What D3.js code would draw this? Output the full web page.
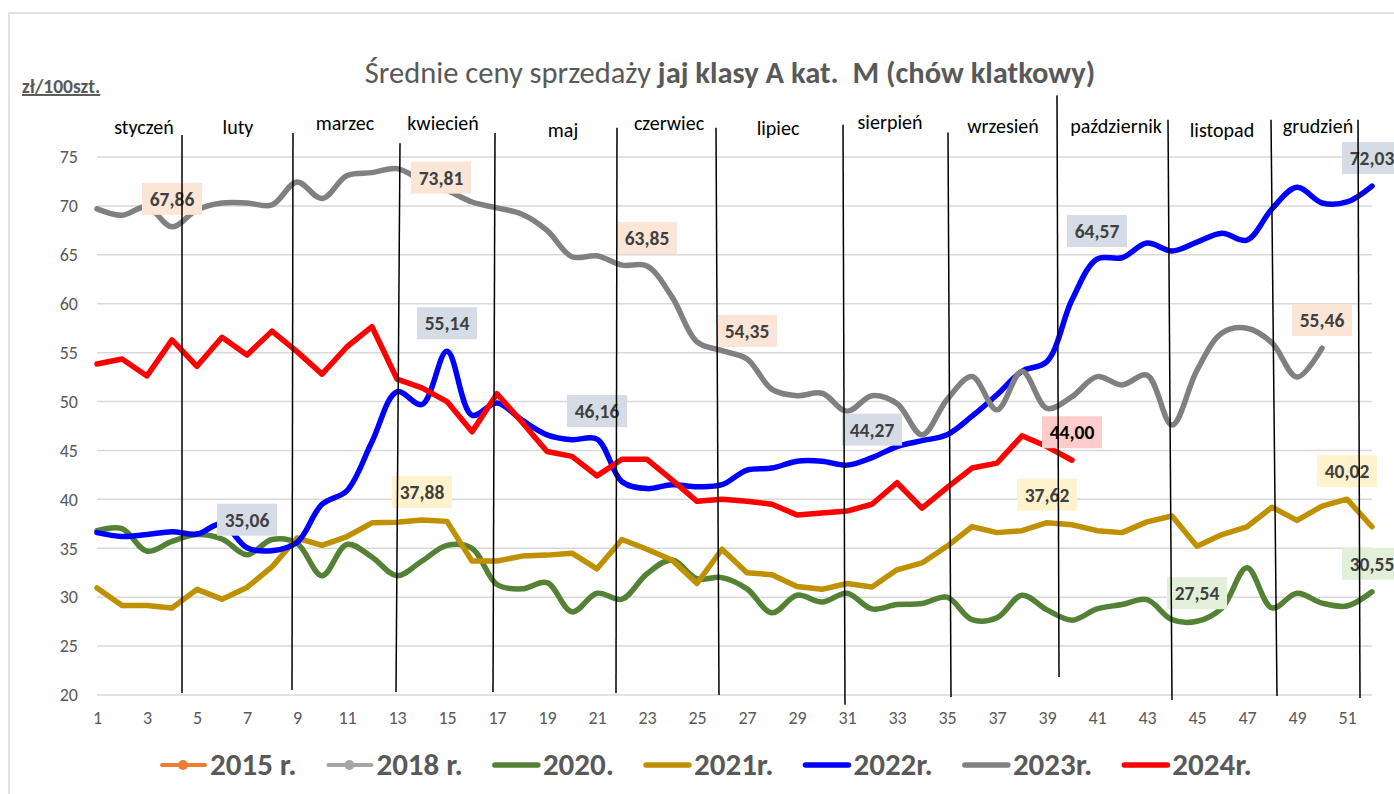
<!DOCTYPE html>
<html>
<head>
<meta charset="utf-8">
<script src="https://cdn.jsdelivr.net/npm/d3@7"></script>
<style>
  body { margin: 0; background: #fff; }
  svg { display: block; font-family: Carlito, Lato, "Open Sans", sans-serif; }
</style>
</head>
<body>
<div id="chart"></div>
<script>
// weeks of the year (category axis)
const weeks = [1, 2, 3, 4, 5, 6, 7, 8, 9, 10, 11, 12, 13, 14, 15, 16, 17, 18, 19, 20, 21, 22, 23, 24, 25, 26,
  27, 28, 29, 30, 31, 32, 33, 34, 35, 36, 37, 38, 39, 40, 41, 42, 43, 44, 45, 46, 47, 48, 49, 50, 51, 52];

const values2015 = [];
const values2018 = [];
const values2020 = [36.8, 37.0, 34.7, 35.7, 36.4, 35.95, 34.35, 35.9, 35.5, 32.2, 35.4, 34.1, 32.2, 33.7, 35.3, 35.0,
  31.3, 30.85, 31.5, 28.5, 30.4, 29.8, 32.4, 33.8, 31.9, 32.0, 30.85, 28.4, 30.2, 29.5, 30.4, 28.8, 29.25, 29.35,
  30.0, 27.7, 27.9, 30.2, 28.7, 27.65, 28.8, 29.25, 29.75, 27.7, 27.54, 28.9, 33.0, 28.9, 30.4, 29.4, 29.1, 30.55];
const values2021 = [30.95, 29.15, 29.15, 28.9, 30.8, 29.8, 31.0, 33.1, 36.05, 35.3, 36.2, 37.6, 37.65, 37.88, 37.75,
  33.7, 33.7, 34.2, 34.3, 34.5, 32.9, 35.9, 34.9, 33.8, 31.4, 34.9, 32.5, 32.3, 31.1, 30.8, 31.4, 31.05, 32.8, 33.5,
  35.2, 37.2, 36.6, 36.8, 37.62, 37.4, 36.8, 36.6, 37.7, 38.3, 35.2, 36.4, 37.2, 39.2, 37.85, 39.3, 40.02, 37.2];
const values2022 = [36.6, 36.2, 36.4, 36.7, 36.45, 37.5, 35.06, 34.75, 35.6, 39.5, 40.9, 45.9, 51.0, 49.7, 55.14,
  48.6, 49.85, 48.1, 46.6, 46.1, 46.16, 41.8, 41.1, 41.5, 41.3, 41.5, 43.0, 43.2, 43.9, 43.9, 43.5, 44.27, 45.4, 46.0,
  46.6, 48.5, 50.7, 53.1, 54.1, 60.4, 64.57, 64.7, 66.2, 65.4, 66.3, 67.2, 66.5, 69.7, 71.9, 70.3, 70.4, 72.03];
const values2023 = [69.7, 69.05, 69.9, 67.86, 69.6, 70.3, 70.3, 70.1, 72.45, 70.75, 73.1, 73.4, 73.81, 72.6, 71.6,
  70.4, 69.8, 69.15, 67.5, 64.8, 64.9, 63.95, 63.85, 60.7, 56.1, 55.2, 54.35, 51.25, 50.6, 50.85, 49.0, 50.6, 49.8,
  46.6, 50.2, 52.55, 49.15, 53.1, 49.3, 50.5, 52.55, 51.7, 52.7, 47.6, 53.2, 57.0, 57.5, 56.0, 52.5, 55.46, null, null];
const values2024 = [53.84, 54.35, 52.62, 56.3, 53.6, 56.57, 54.76, 57.2, 55.1, 52.8, 55.6, 57.65, 52.3, 51.4, 50.0,
  46.9, 50.8, 47.9, 44.9, 44.4, 42.4, 44.1, 44.1, 42.0, 39.8, 40.0, 39.8, 39.5, 38.4, 38.6, 38.8, 39.5, 41.7, 39.1,
  41.2, 43.2, 43.7, 46.5, 45.4, 44.0, null, null, null, null, null, null, null, null, null, null, null, null];

const yTicks = [20, 25, 30, 35, 40, 45, 50, 55, 60, 65, 70, 75];
const xTicks = [1, 3, 5, 7, 9, 11, 13, 15, 17, 19, 21, 23, 25, 27, 29, 31, 33, 35, 37, 39, 41, 43, 45, 47, 49, 51];

// month names, placed by week
const months = ["styczeń", "luty", "marzec", "kwiecień", "maj", "czerwiec", "lipiec", "sierpień", "wrzesień",
  "październik", "listopad", "grudzień"];
const monthWeeks = [2.88, 6.64, 10.92, 14.84, 19.64, 23.88, 28.24, 32.72, 37.24, 41.76, 46.0, 49.84];
// hand drawn month separators: [week at top, value at top, week at bottom, value at bottom]
const monthLines = [
  [4.4, 77.25, 4.4, 20.2], [8.84, 77.45, 8.8, 20.5], [13.12, 76.4, 12.96, 20.3], [16.92, 77.45, 16.84, 20.3],
  [21.8, 78.0, 21.76, 20.2], [25.76, 78.0, 25.88, 20.0], [30.84, 78.3, 30.92, 19.0], [35.04, 77.5, 35.16, 19.8],
  [39.4, 81.3, 39.48, 21.85], [43.84, 78.8, 44.0, 19.5], [47.96, 78.8, 48.2, 19.9], [51.44, 78.8, 51.52, 19.7]
];

const series = [
  { name: "2015 r.", values: values2015, color: "#ED7D31", marker: true },
  { name: "2018 r.", values: values2018, color: "#A5A5A5", marker: true },
  { name: "2020.", values: values2020, color: "#548235", smooth: true, label: "#E2F0D9" },
  { name: "2021r.", values: values2021, color: "#BF9000", smooth: false, label: "#FFF2CC" },
  { name: "2022r.", values: values2022, color: "#0000FF", smooth: true, label: "#D6DCE5" },
  { name: "2023r.", values: values2023, color: "#808080", smooth: true, label: "#FBE5D6" },
  { name: "2024r.", values: values2024, color: "#FF0000", smooth: false, label: "#FFCCCC", labelText: "#000" }
];

// data labels: series index, week
const labels = [
  [5, 4], [5, 13], [5, 23], [5, 27], [5, 50],
  [4, 7], [4, 15], [4, 21], [4, 32], [4, 41], [4, 52],
  [3, 14], [3, 39], [3, 51],
  [2, 45], [2, 52],
  [6, 40]
];

const width = 1394;
const height = 794;

const svg = d3.select("#chart")
              .append("svg")
              .attr("width", width)
              .attr("height", height);

svg.append("rect")
   .attr("x", 9).attr("y", 13)
   .attr("width", width).attr("height", height)
   .attr("fill", "#fff")
   .attr("stroke", "#D9D9D9")
   .attr("stroke-width", 1.5);

const x = d3.scaleLinear().domain([1, 52]).range([97, 1372]);
const y = d3.scaleLinear().domain([20, 75]).range([695, 157]);

// gridlines
svg.append("g")
   .selectAll("line")
   .data(yTicks)
   .enter().append("line")
   .attr("x1", x(1)).attr("x2", x(52))
   .attr("y1", d => y(d)).attr("y2", d => y(d))
   .attr("stroke", "#D9D9D9")
   .attr("stroke-width", 1.5);

// axes
const yAxis = svg.append("g")
                 .attr("transform", "translate(80,0)")
                 .call(d3.axisLeft(y).tickValues(yTicks).tickSize(0).tickPadding(2));
const xAxis = svg.append("g")
                 .attr("transform", "translate(0," + y(20) + ")")
                 .call(d3.axisBottom(x).tickValues(xTicks).tickSize(0).tickPadding(16));
[yAxis, xAxis].forEach(a => {
  a.select(".domain").remove();
  a.selectAll("text")
   .attr("fill", "#595959")
   .style("font-size", "18px")
   .style("font-family", "Carlito, Lato, sans-serif");
});

// series lines
series.forEach(s => {
  if (!s.values.length) return;
  const line = d3.line()
                 .defined(d => d != null)
                 .x((d, i) => x(weeks[i]))
                 .y(d => y(d))
                 .curve(s.smooth ? d3.curveCatmullRom.alpha(0.5) : d3.curveLinear);
  svg.append("path")
     .datum(s.values)
     .attr("fill", "none")
     .attr("stroke", s.color)
     .attr("stroke-width", 5.5)
     .attr("stroke-linejoin", "round")
     .attr("stroke-linecap", "round")
     .attr("d", line);
});

// data labels
const fmt = v => v.toFixed(2).replace(".", ",");
labels.forEach(([si, w]) => {
  const s = series[si];
  const v = s.values[w - 1];
  let cx = x(w);
  let cy = y(v) - 28;
  if (si === 5 && w === 13) { cx = x(w) + 44; cy = y(v) + 9; }
  const g = svg.append("g").attr("transform", "translate(" + cx + "," + cy + ")");
  g.append("rect")
   .attr("x", -30).attr("y", -16)
   .attr("width", 60).attr("height", 32)
   .attr("fill", s.label);
  g.append("text")
   .attr("text-anchor", "middle")
   .attr("dy", "0.36em")
   .attr("fill", s.labelText || "#404040")
   .style("font-size", "19.5px")
   .style("font-weight", "bold")
   .text(fmt(v));
});

// month separators
svg.append("g")
   .selectAll("line")
   .data(monthLines)
   .enter().append("line")
   .attr("x1", d => x(d[0])).attr("y1", d => y(d[1]))
   .attr("x2", d => x(d[2])).attr("y2", d => y(d[3]))
   .attr("stroke", "#000")
   .attr("stroke-width", 1.5);

svg.append("g")
   .selectAll("text")
   .data(months)
   .enter().append("text")
   .attr("x", (d, i) => x(monthWeeks[i]))
   .attr("y", (d, i) => [134, 134, 130, 130, 137, 130, 135, 129, 133, 133, 137, 133][i])
   .attr("text-anchor", "middle")
   .attr("fill", "#000")
   .style("font-size", "20px")
   .text(d => d);

// title
const title = svg.append("text")
                 .attr("x", 730)
                 .attr("y", 83)
                 .attr("text-anchor", "middle")
                 .attr("fill", "#595959")
                 .style("font-size", "30.5px");
title.append("tspan").text("Średnie ceny sprzedaży ");
title.append("tspan").style("font-weight", "bold").text("jaj klasy A kat.\u00a0 M (chów klatkowy)");

svg.append("text")
   .attr("x", 22)
   .attr("y", 93)
   .attr("fill", "#595959")
   .style("font-size", "19.5px")
   .style("font-weight", "bold")
   .style("text-decoration", "underline")
   .text("zł/100szt.");

// legend
const legend = svg.append("g").attr("transform", "translate(160,765)");
let lx = 0;
series.forEach(s => {
  const item = legend.append("g").attr("transform", "translate(" + lx + ",0)");
  item.append("line")
      .attr("x1", 2).attr("x2", 45)
      .attr("stroke", s.color)
      .attr("stroke-width", s.marker ? 4 : 5.5)
      .attr("stroke-linecap", "round");
  if (s.marker) {
    item.append("circle").attr("cx", 23).attr("r", 5).attr("fill", s.color);
  }
  const t = item.append("text")
                .attr("x", 50)
                .attr("y", 10)
                .attr("fill", "#595959")
                .style("font-size", "31px")
                .style("font-weight", "bold")
                .text(s.name);
  lx += 50 + t.node().getComputedTextLength() + 30;
});
</script>
</body>
</html>
